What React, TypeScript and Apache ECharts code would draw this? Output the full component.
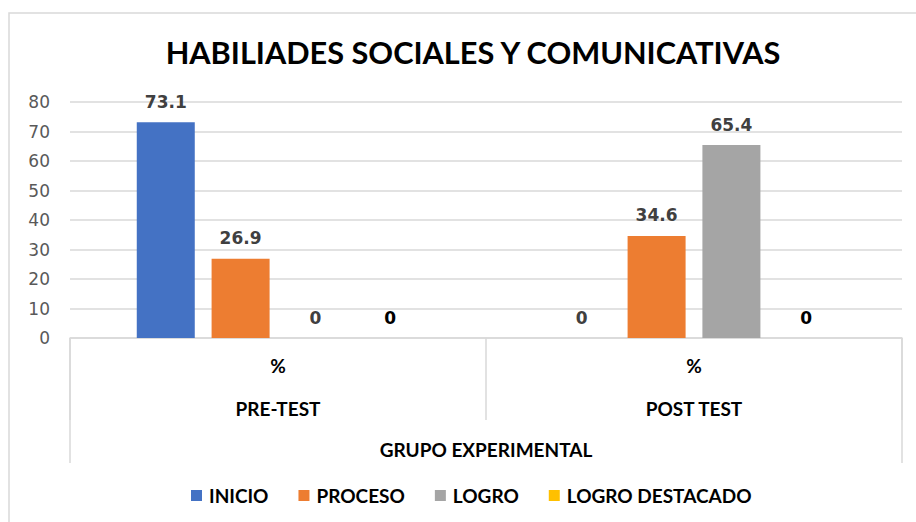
import React, { useEffect, useRef } from "react";
import * as echarts from "echarts";

const categories = ["PRE-TEST", "POST TEST"];
const groupLabel = "GRUPO EXPERIMENTAL";
const unitLabel = "%";
const seriesNames = ["INICIO", "PROCESO", "LOGRO", "LOGRO DESTACADO"];
const inicio = [73.1, 0];
const proceso = [26.9, 34.6];
const logro = [0, 65.4];
const logroDestacado = [0, 0];
const colors = ["#4472C4", "#ED7D31", "#A5A5A5", "#FFC000"];
const labelColors = ["#404040", "#404040", "#404040", "#000000"];

export default function App() {
  const ref = useRef<HTMLDivElement>(null);
  useEffect(() => {
    document.body.style.margin = "0";
    const chart = echarts.init(ref.current!, undefined, { renderer: "svg" });
    const values = [inicio, proceso, logro, logroDestacado];
    chart.setOption({
      animation: false,
      backgroundColor: "#ffffff",
      title: {
        text: "HABILIADES SOCIALES Y COMUNICATIVAS",
        left: 468,
        top: 32,
        textAlign: "center",
        textStyle: { fontFamily: "Lato", fontWeight: "bold", fontSize: 30.7, color: "#000000" },
      },
      graphic: [
        {
          type: "polyline",
          shape: { points: [[9, 522], [9, 13], [916, 13]] },
          style: { stroke: "#d9d9d9", lineWidth: 1.5, fill: "none" },
          silent: true,
        },
      ],
      legend: {
        left: 186,
        top: 481,
        itemWidth: 11,
        itemHeight: 11,
        itemGap: 30,
        icon: "rect",
        textStyle: { fontFamily: "Lato", fontWeight: "bold", fontSize: 19, color: "#000000", padding: [0, 0, 0, 2] },
        data: seriesNames,
      },
      grid: { left: 70, right: 14, top: 102, bottom: 184 },
      xAxis: [
        {
          type: "category",
          data: categories,
          axisLine: { show: true, lineStyle: { color: "#d9d9d9", width: 1.5 } },
          axisTick: { show: true, length: 82, interval: 0, lineStyle: { color: "#d9d9d9", width: 1.5 } },
          axisLabel: {
            interval: 0,
            margin: 6,
            formatter: (v: string) => `{p|${unitLabel}}\n{c|${v}}`,
            rich: {
              p: { fontFamily: "Lato", fontWeight: "bold", fontSize: 19, color: "#000000", lineHeight: 43 },
              c: { fontFamily: "Lato", fontWeight: "bold", fontSize: 19, color: "#000000", lineHeight: 43 },
            },
          },
        },
        {
          type: "category",
          data: [groupLabel],
          position: "bottom",
          axisLine: { show: false },
          axisTick: { show: true, length: 125, interval: 0, lineStyle: { color: "#d9d9d9", width: 1.5 } },
          axisLabel: {
            margin: 102,
            fontFamily: "Lato",
            fontWeight: "bold",
            fontSize: 19,
            color: "#000000",
          },
        },
      ],
      yAxis: {
        type: "value",
        min: 0,
        max: 80,
        interval: 10,
        axisLine: { show: false },
        axisTick: { show: false },
        splitLine: { lineStyle: { color: "#d9d9d9", width: 1.5 } },
        axisLabel: { margin: 20, fontFamily: "DejaVu Sans", fontSize: 17, color: "#595959" },
      },
      series: seriesNames.map((name, i) => ({
        name,
        type: "bar",
        xAxisIndex: 0,
        data: values[i],
        barWidth: 58,
        barGap: "29%",
        itemStyle: { color: colors[i] },
        label: {
          show: true,
          position: "top",
          distance: 12,
          fontFamily: "DejaVu Sans",
          fontWeight: "bold",
          fontSize: 17,
          color: labelColors[i],
        },
      })),
    });
    return () => chart.dispose();
  }, []);
  return <div ref={ref} style={{ width: 916, height: 522 }} />;
}
